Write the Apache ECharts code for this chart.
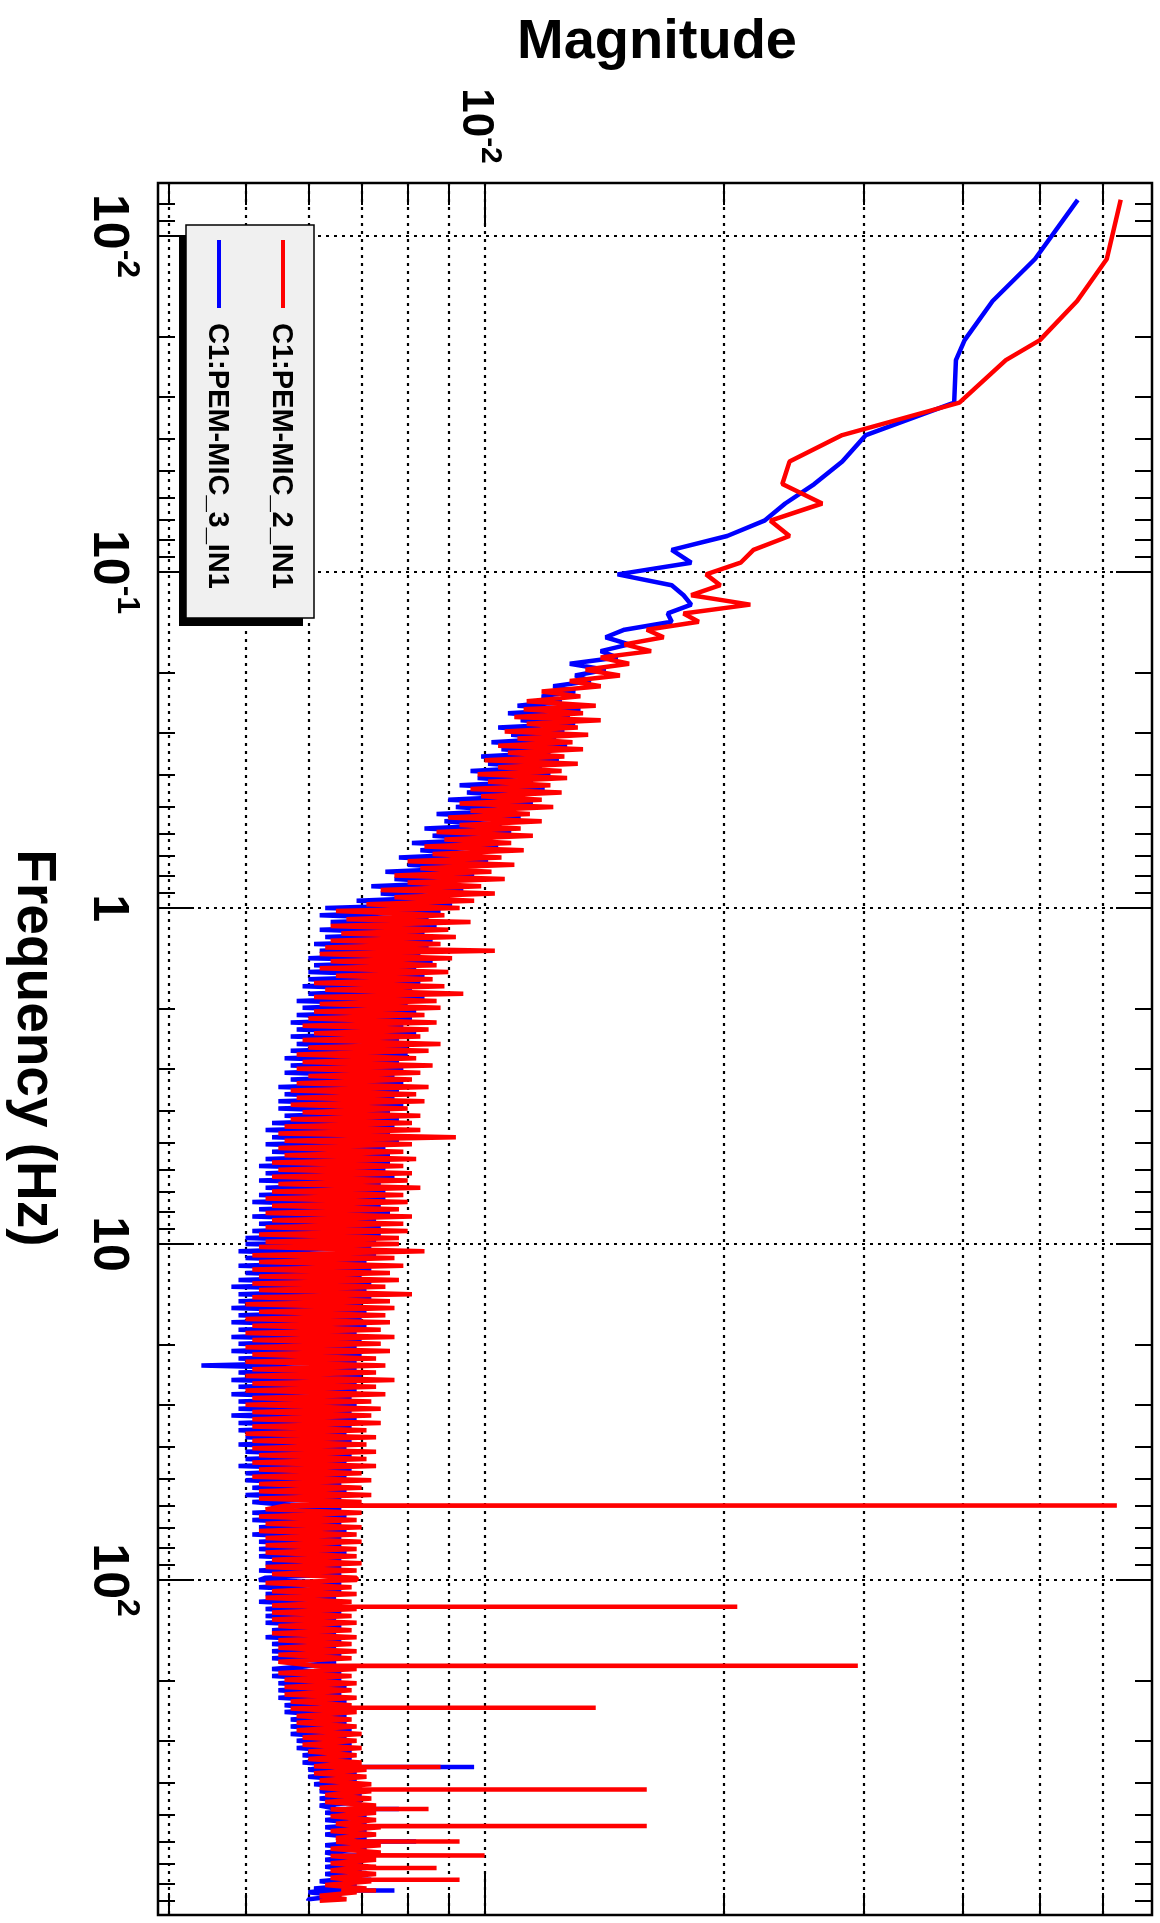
<!DOCTYPE html>
<html>
<head>
<meta charset="utf-8">
<script src="https://cdn.jsdelivr.net/npm/echarts@6/dist/echarts.min.js"></script>
<style>
html,body{margin:0;padding:0;background:#fff;}
#chart{width:1160px;height:1923px;}
</style>
</head>
<body>
<div id="chart"></div>
<script>
// ---- data: frequency (Hz) and magnitude per channel ----
const freqLow = [0.0078,0.0117,0.0156,0.0204,0.0234,0.0313,0.0391,0.0469,0.0547,0.0625,0.0703,0.0781,0.0859,0.0938,0.1016,0.1094,0.1172,
  0.125,0.1328,0.1406,0.1484,0.1563,0.1641,0.1719,0.1797,0.1875,0.1953,0.2031,0.2109,0.2188,0.2266,0.2344,0.2422];
const mic2Low = [0.0632,0.0607,0.0557,0.0500,0.0453,0.0396,0.0282,0.0242,0.0237,0.0266,0.0229,0.0242,0.0218,0.0210,0.0190,0.0198,0.0182,
  0.0216,0.0178,0.0186,0.0160,0.0168,0.0150,0.0162,0.0140,0.0152,0.0134,0.0148,0.0128,0.0140,0.0118,0.0132,0.0113];
const mic3Low = [0.0558,0.0493,0.0436,0.0402,0.0392,0.0390,0.0302,0.0282,0.0260,0.0239,0.0225,0.0202,0.0172,0.0182,0.0147,0.0172,0.0178,
  0.0182,0.0170,0.0172,0.0150,0.0142,0.0152,0.0140,0.0147,0.0128,0.0142,0.0130,0.0136,0.0122,0.0130,0.0118,0.0125];

const freqMid = [0.250,0.256,0.263,0.270,0.276,0.283,0.290,0.298,0.305,0.313,
  0.321,0.329,0.337,0.345,0.354,0.363,0.372,0.381,0.391,0.400,
  0.410,0.421,0.431,0.442,0.453,0.465,0.476,0.488,0.500,0.513,
  0.525,0.538,0.552,0.566,0.580,0.594,0.609,0.625,0.640,0.656,
  0.673,0.690,0.707,0.725,0.743,0.761,0.780,0.800,0.820,0.840,
  0.861,0.883,0.905,0.928,0.951,0.975];
const mic2Mid = [0.0138,0.0112,0.0133,0.0109,0.0140,0.0113,0.0131,0.0106,0.0135,0.0110,
  0.0129,0.0104,0.0133,0.0107,0.0126,0.0100,0.0131,0.0104,0.0125,0.0098,
  0.0127,0.0101,0.0121,0.0096,0.0125,0.0099,0.0118,0.0093,0.0122,0.0096,
  0.0114,0.0090,0.0118,0.0093,0.0111,0.0087,0.0115,0.0089,0.0108,0.0084,
  0.0112,0.0086,0.0105,0.0080,0.0109,0.0083,0.0102,0.0077,0.0106,0.0080,
  0.0099,0.0074,0.0103,0.0077,0.0097,0.0071];
const mic3Mid = [0.0110,0.0132,0.0107,0.0128,0.0111,0.0130,0.0104,0.0126,0.0108,0.0123,
  0.0102,0.0127,0.0105,0.0121,0.0099,0.0124,0.0101,0.0118,0.0096,0.0121,
  0.0098,0.0115,0.0093,0.0119,0.0095,0.0112,0.0090,0.0115,0.0092,0.0108,
  0.0087,0.0111,0.0089,0.0105,0.0084,0.0108,0.0086,0.0101,0.0081,0.0104,
  0.0083,0.0098,0.0078,0.0101,0.0080,0.0095,0.0075,0.0097,0.0077,0.0092,
  0.0072,0.0094,0.0074,0.0089,0.0069,0.0091];

const freqNoise = [
  1.00,1.02,1.05,1.08,1.10,1.13,1.16,1.19,1.22,1.25,
  1.28,1.31,1.34,1.37,1.41,1.44,1.48,1.51,1.55,1.59,
  1.63,1.67,1.71,1.75,1.80,1.84,1.89,1.93,1.98,2.03,
  2.08,2.13,2.19,2.24,2.30,2.36,2.41,2.47,2.54,2.60,
  2.66,2.73,2.80,2.87,2.94,3.01,3.09,3.16,3.24,3.32,
  3.41,3.49,3.58,3.67,3.76,3.85,3.95,4.05,4.15,4.25,
  4.36,4.47,4.58,4.69,4.81,4.93,5.05,5.18,5.31,5.44,
  5.58,5.72,5.86,6.01,6.16,6.31,6.47,6.63,6.80,6.97,
  7.14,7.32,7.50,7.69,7.88,8.08,8.28,8.49,8.70,8.91,
  9.14,9.36,9.60,9.84,
  10.0,10.2,10.5,10.8,11.0,11.3,11.6,11.9,12.2,12.5,
  12.8,13.1,13.4,13.7,14.1,14.4,14.8,15.1,15.5,15.9,
  16.3,16.7,17.1,17.5,18.0,18.4,18.9,19.3,19.8,20.3,
  20.8,21.3,21.9,22.4,23.0,23.6,24.1,24.7,25.4,26.0,
  26.6,27.3,28.0,28.7,29.4,30.1,30.9,31.6,32.4,33.2,
  34.1,34.9,35.8,36.7,37.6,38.5,39.5,40.5,41.5,42.5,
  43.6,44.7,45.8,46.9,48.1,49.3,50.5,51.8,53.1,54.4,
  55.8,57.2,58.6,59.9,60.0,60.1,
  61.6,63.1,64.7,66.3,68.0,69.7,71.4,73.2,75.0,76.9,
  78.8,80.8,82.8,84.9,87.0,89.1,91.4,93.6,96.0,98.4,
  100,102,105,108,110,113,116,119,119.9,120,120.1,
  122,125,128,131,134,137,141,144,148,151,155,159,163,167,171,175,
  179.9,180,180.1,
  184,189,193,198,203,208,213,219,224,230,236,
  239.9,240,240.1,
  241,247,254,260,266,273,280,287,294,301,309,316,324,332,341,349,358,
  359.9,360,360.1,
  367,376,385,395,405,415,
  419.9,420,420.1,
  425,436,447,458,469,
  479.9,480,480.1,
  481,493,505,518,531,
  539.9,540,540.1,
  544,558,572,586,
  599.9,600,600.1,
  601,616,631,647,
  659.9,660,660.1,
  663,680,697,714,
  719.9,720,720.1,
  732,750,769,
  779.9,780,780.1,
  788,808,828,
  839.9,840,840.1,
  849,870,891,900];

const mic2Noise = [
  // 1 - 10 Hz
  0.0093,0.0065,0.0089,0.0067,0.0096,0.0064,0.0090,0.0066,0.0092,0.0064,
  0.0088,0.0063,0.0103,0.0062,0.0091,0.0064,0.0087,0.0062,0.0090,0.0065,
  0.0086,0.0061,0.0089,0.0063,0.0094,0.0061,0.0087,0.0062,0.0088,0.0061,
  0.0084,0.0060,0.0087,0.0059,0.0085,0.0061,0.0083,0.0059,0.0088,0.0060,
  0.0085,0.0058,0.0082,0.0059,0.0086,0.0058,0.0083,0.0060,0.0081,0.0058,
  0.0085,0.0057,0.0082,0.0058,0.0084,0.0057,0.0080,0.0059,0.0083,0.0057,
  0.0081,0.0056,0.0083,0.0055,0.0092,0.0056,0.0081,0.0055,0.0079,0.0056,
  0.0082,0.0054,0.0079,0.0055,0.0081,0.0054,0.0080,0.0055,0.0083,0.0054,
  0.0079,0.0053,0.0080,0.0054,0.0078,0.0053,0.0081,0.0054,0.0079,0.0053,
  0.0080,0.0052,0.0078,0.0053,
  // 10 - 100 Hz
  0.0078,0.0052,0.0084,0.0051,0.0077,0.0052,0.0079,0.0051,0.0076,0.0052,
  0.0078,0.0051,0.0075,0.0052,0.0081,0.0051,0.0076,0.0050,0.0077,0.0052,
  0.0075,0.0050,0.0076,0.0051,0.0074,0.0050,0.0077,0.0051,0.0074,0.0050,
  0.0076,0.0051,0.0073,0.0050,0.0075,0.0051,0.0073,0.0050,0.0077,0.0051,
  0.0073,0.0050,0.0075,0.0051,0.0072,0.0050,0.0074,0.0051,0.0072,0.0051,
  0.0074,0.0051,0.0071,0.0050,0.0073,0.0051,0.0071,0.0051,0.0073,0.0052,
  0.0071,0.0051,0.0073,0.0052,0.0070,0.0051,0.0072,0.0052,0.0070,0.0052,
  0.0072,0.0052,0.0070,0.0057,0.0625,0.0056,
  0.0053,0.0070,0.0052,0.0069,0.0053,0.0070,0.0052,0.0069,0.0053,0.0070,
  0.0053,0.0069,0.0053,0.0069,0.0054,0.0070,0.0053,0.0069,0.0054,0.0069,
  // 100 - 900 Hz
  0.0069,0.0053,0.0068,0.0054,0.0069,0.0053,0.0068,0.0054,0.0060,0.0208,0.0060,
  0.0069,0.0054,0.0068,0.0054,0.0069,0.0055,0.0068,0.0054,0.0069,0.0055,0.0068,0.0055,0.0069,0.0055,0.0068,0.0055,
  0.0061,0.0295,0.0061,
  0.0069,0.0055,0.0068,0.0056,0.0069,0.0056,0.0068,0.0056,0.0069,0.0057,0.0068,
  0.0062,0.0138,0.0062,
  0.0057,0.0069,0.0058,0.0068,0.0058,0.0069,0.0058,0.0070,0.0059,0.0069,0.0059,0.0070,0.0060,0.0069,0.0060,0.0070,0.0061,
  0.0064,0.0088,0.0064,
  0.0071,0.0061,0.0071,0.0062,0.0072,0.0062,
  0.0066,0.0160,0.0066,
  0.0072,0.0063,0.0072,0.0063,0.0073,
  0.0067,0.0085,0.0067,
  0.0064,0.0073,0.0064,0.0073,0.0065,
  0.0069,0.0160,0.0069,
  0.0074,0.0064,0.0073,0.0065,
  0.0069,0.0093,0.0069,
  0.0065,0.0074,0.0064,0.0074,
  0.0069,0.0100,0.0069,
  0.0064,0.0073,0.0064,0.0073,
  0.0068,0.0087,0.0068,
  0.0064,0.0073,0.0064,
  0.0068,0.0093,0.0068,
  0.0072,0.0063,0.0071,
  0.0066,0.0073,0.0066,
  0.0069,0.0062,0.0067,0.0062];

const mic3Noise = [
  // 1 - 10 Hz
  0.0063,0.0088,0.0062,0.0085,0.0064,0.0087,0.0062,0.0084,0.0063,0.0086,
  0.0061,0.0085,0.0062,0.0083,0.0060,0.0086,0.0061,0.0082,0.0060,0.0084,
  0.0060,0.0083,0.0059,0.0081,0.0060,0.0084,0.0058,0.0080,0.0059,0.0082,
  0.0058,0.0081,0.0057,0.0079,0.0058,0.0082,0.0057,0.0078,0.0058,0.0080,
  0.0057,0.0080,0.0056,0.0078,0.0057,0.0079,0.0056,0.0077,0.0057,0.0079,
  0.0055,0.0078,0.0056,0.0077,0.0055,0.0079,0.0055,0.0076,0.0056,0.0078,
  0.0054,0.0077,0.0053,0.0076,0.0054,0.0078,0.0053,0.0075,0.0054,0.0076,
  0.0053,0.0076,0.0052,0.0075,0.0053,0.0077,0.0052,0.0074,0.0053,0.0075,
  0.0052,0.0075,0.0051,0.0074,0.0052,0.0076,0.0051,0.0073,0.0052,0.0074,
  0.0051,0.0074,0.0050,0.0073,
  // 10 - 100 Hz
  0.0050,0.0072,0.0049,0.0073,0.0050,0.0071,0.0049,0.0072,0.0050,0.0070,
  0.0049,0.0072,0.0048,0.0071,0.0049,0.0072,0.0049,0.0070,0.0048,0.0071,
  0.0049,0.0070,0.0048,0.0071,0.0049,0.0069,0.0048,0.0070,0.0049,0.0069,
  0.0048,0.0070,0.0049,0.0069,0.0044,0.0069,0.0049,0.0070,0.0048,0.0069,
  0.0049,0.0069,0.0048,0.0068,0.0049,0.0069,0.0049,0.0068,0.0048,0.0069,
  0.0049,0.0068,0.0049,0.0067,0.0050,0.0068,0.0049,0.0067,0.0050,0.0068,
  0.0050,0.0067,0.0049,0.0068,0.0050,0.0067,0.0050,0.0066,0.0051,0.0067,
  0.0050,0.0066,0.0051,0.0057,0.0062,0.0056,
  0.0066,0.0051,0.0067,0.0051,0.0066,0.0052,0.0067,0.0051,0.0066,0.0052,
  0.0066,0.0052,0.0067,0.0052,0.0066,0.0053,0.0066,0.0052,0.0066,0.0053,
  // 100 - 900 Hz
  0.0052,0.0066,0.0052,0.0066,0.0053,0.0065,0.0052,0.0066,0.0059,0.0063,0.0059,
  0.0053,0.0066,0.0053,0.0065,0.0053,0.0066,0.0054,0.0065,0.0053,0.0066,0.0054,0.0065,0.0054,0.0066,0.0054,0.0065,
  0.0060,0.0064,0.0060,
  0.0054,0.0066,0.0054,0.0066,0.0055,0.0067,0.0055,0.0066,0.0055,0.0067,0.0056,
  0.0061,0.0064,0.0061,
  0.0067,0.0056,0.0067,0.0057,0.0067,0.0057,0.0068,0.0057,0.0067,0.0058,0.0068,0.0058,0.0068,0.0059,0.0068,0.0059,0.0069,
  0.0063,0.0097,0.0063,
  0.0060,0.0069,0.0060,0.0069,0.0061,0.0070,
  0.0064,0.0066,0.0064,
  0.0062,0.0070,0.0062,0.0070,0.0062,
  0.0065,0.0078,0.0065,
  0.0071,0.0063,0.0071,0.0063,0.0071,
  0.0066,0.0068,0.0066,
  0.0063,0.0071,0.0063,0.0071,
  0.0066,0.0082,0.0066,
  0.0071,0.0063,0.0071,0.0063,
  0.0066,0.0070,0.0066,
  0.0071,0.0063,0.0070,0.0063,
  0.0065,0.0071,0.0065,
  0.0070,0.0063,0.0070,
  0.0065,0.0072,0.0065,
  0.0062,0.0069,0.0061,
  0.0063,0.0077,0.0063,
  0.0060,0.0066,0.0060,0.0060];

// ---- axes ----
const freqRange = [0.00695, 993];
const magRange = [0.00388, 0.0692];
const freqMajorTicks = [0.01, 0.1, 1, 10, 100];
const freqMinorTicks = [0.008,0.009,0.02,0.03,0.04,0.05,0.06,0.07,0.08,0.09,0.2,0.3,0.4,0.5,0.6,0.7,0.8,0.9,2,3,4,5,6,7,8,9,20,30,40,50,60,70,80,90,200,300,400,500,600,700,800,900];
const magMajorTicks = [0.01];
const magMinorTicks = [0.004,0.005,0.006,0.007,0.008,0.009,0.02,0.03,0.04,0.05,0.06];
const freqTickLabels = [['10','-2'],['10','-1'],['1',''],['10',''],['10','2']];
const magTickLabels = [['10','-2']];
const seriesNames = ['C1:PEM-MIC_2_IN1', 'C1:PEM-MIC_3_IN1'];
const seriesColors = ['#ff0000', '#0000ff'];

const FONT = '"Liberation Sans", Arial, Helvetica, sans-serif';
const gridStyle = { color: '#000', width: 2.2, type: [3, 5] };

function pairs(fs, ms) {
  const n = Math.min(fs.length, ms.length);
  const out = [];
  for (let i = 0; i < n; i++) out.push([ms[i], fs[i]]);
  return out;
}
const freqAll = freqLow.concat(freqMid, freqNoise);
const mic2 = mic2Low.concat(mic2Mid, mic2Noise);
const mic3 = mic3Low.concat(mic3Mid, mic3Noise);

function xAx(pos, ticks, len, split) {
  return {
    type: 'log', logBase: 10, position: pos, min: magRange[0], max: magRange[1],
    axisLine: { show: false }, axisLabel: { show: false },
    axisTick: { show: true, inside: true, length: len, customValues: ticks, lineStyle: { color: '#000', width: 2 } },
    splitLine: { show: split, lineStyle: gridStyle }, minorTick: { show: false }
  };
}
function yAx(pos, ticks, len, split) {
  return {
    type: 'log', logBase: 10, position: pos, inverse: true, min: freqRange[0], max: freqRange[1],
    axisLine: { show: false }, axisLabel: { show: false },
    axisTick: { show: true, inside: true, length: len, customValues: ticks, lineStyle: { color: '#000', width: 2 } },
    splitLine: { show: split, lineStyle: gridStyle }, minorTick: { show: false }
  };
}

const chart = echarts.init(document.getElementById('chart'), null, { renderer: 'canvas' });
chart.setOption({
  animation: false,
  backgroundColor: '#ffffff',
  grid: { left: 158, right: 8, top: 183, bottom: 8, show: true, borderColor: '#000', borderWidth: 2.5, backgroundColor: 'transparent' },
  xAxis: [
    xAx('top', magMajorTicks, 44, true),
    xAx('top', magMinorTicks, 22, true),
    xAx('bottom', magMajorTicks, 44, false),
    xAx('bottom', magMinorTicks, 22, false)
  ],
  yAxis: [
    yAx('left', freqMajorTicks, 36, true),
    yAx('left', freqMinorTicks, 17, false),
    yAx('right', freqMajorTicks, 36, false),
    yAx('right', freqMinorTicks, 17, false)
  ],
  series: [
    { type: 'line', name: seriesNames[1], xAxisIndex: 0, yAxisIndex: 0, data: pairs(freqAll, mic3),
      symbol: 'none', showSymbol: false, lineStyle: { color: seriesColors[1], width: 4.5 }, itemStyle: { color: seriesColors[1] }, z: 3 },
    { type: 'line', name: seriesNames[0], xAxisIndex: 0, yAxisIndex: 0, data: pairs(freqAll, mic2),
      symbol: 'none', showSymbol: false, lineStyle: { color: seriesColors[0], width: 4.5 }, itemStyle: { color: seriesColors[0] }, z: 4 }
  ]
});

// ---- tick labels, titles, legend (text rotated like the source plot) ----
const rot = -Math.PI / 2;
function richLabel(base, sup, bs, ss, lh) {
  return {
    text: sup ? '{b|' + base + '}{s|' + sup + '}' : '{b|' + base + '}',
    rich: {
      b: { fontSize: bs, fontWeight: 'bold', fontFamily: FONT, lineHeight: lh, fill: '#000' },
      s: { fontSize: ss, fontWeight: 'bold', fontFamily: FONT, lineHeight: Math.round(ss * 1.15), verticalAlign: 'top', fill: '#000' }
    }
  };
}
const graphics = [];
freqMajorTicks.forEach((f, i) => {
  const y = chart.convertToPixel({ yAxisIndex: 0 }, f);
  const lab = freqTickLabels[i];
  graphics.push({ type: 'text', x: 143, y: y, rotation: rot, z: 10,
    style: Object.assign(richLabel(lab[0], lab[1], 50, 32, 70), { align: 'center', verticalAlign: 'top' }) });
});
magMajorTicks.forEach((m, i) => {
  const x = chart.convertToPixel({ xAxisIndex: 0 }, m);
  const lab = magTickLabels[i];
  graphics.push({ type: 'text', x: x + 21, y: 126, rotation: rot, z: 10,
    style: Object.assign(richLabel(lab[0], lab[1], 44, 30, 60), { align: 'center', verticalAlign: 'top' }) });
});
graphics.push({ type: 'text', x: 657, y: 43, z: 10,
  style: { text: 'Magnitude', fontSize: 56, fontWeight: 'bold', fontFamily: FONT, fill: '#000', align: 'center', verticalAlign: 'middle' } });
graphics.push({ type: 'text', x: 33, y: 1048, rotation: rot, z: 10,
  style: { text: 'Frequency (Hz)', fontSize: 55, fontWeight: 'bold', fontFamily: FONT, fill: '#000', align: 'center', verticalAlign: 'middle' } });
// legend box with its shadow
graphics.push({ type: 'rect', shape: { x: 179, y: 236, width: 124, height: 390 }, style: { fill: '#000' }, z: 20 });
graphics.push({ type: 'rect', shape: { x: 186, y: 225, width: 128, height: 393 }, style: { fill: '#f0f0f0', stroke: '#000', lineWidth: 1.5 }, z: 21 });
const legendX = [281, 217];
seriesNames.forEach((n, i) => {
  graphics.push({ type: 'line', shape: { x1: legendX[i] + 2, y1: 240, x2: legendX[i] + 2, y2: 308 }, style: { stroke: seriesColors[i], lineWidth: 4 }, z: 22 });
  graphics.push({ type: 'text', x: legendX[i], y: 323, rotation: rot, z: 22,
    style: { text: n, fontSize: 29, fontWeight: 'bold', fontFamily: FONT, fill: '#000', align: 'left', verticalAlign: 'middle' } });
});
chart.setOption({ graphic: graphics });
</script>
</body>
</html>
